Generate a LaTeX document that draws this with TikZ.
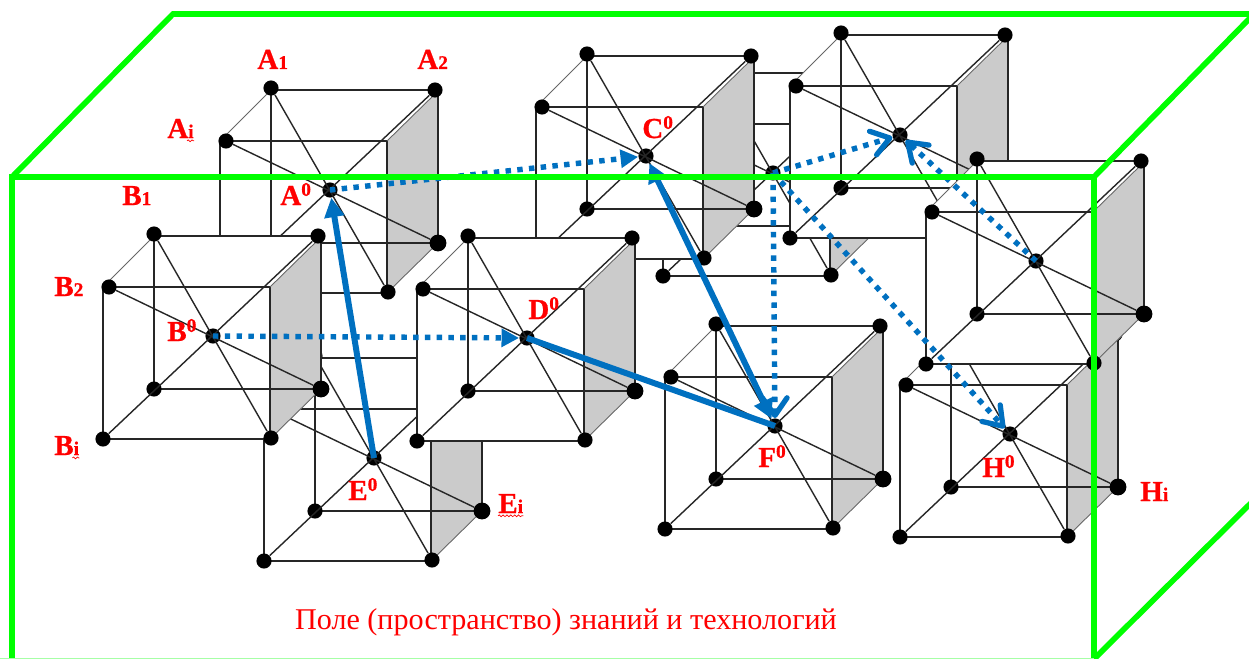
\documentclass[tikz,border=0pt]{standalone}
\usepackage{fontspec}
\setmainfont{Liberation Serif}
\newfontfamily\lblfont{Liberation Serif Bold}[FakeBold=0.8]
\usetikzlibrary{positioning,arrows.meta,calc,decorations.pathmorphing}
\definecolor{sidegray}{RGB}{203,203,203}
\definecolor{arrowblue}{RGB}{0,112,192}
\definecolor{boxgreen}{RGB}{0,255,0}
\definecolor{lblred}{RGB}{255,0,0}
\tikzset{
  dot/.style={circle,fill=black,inner sep=0pt,minimum size=8.6pt},
  bigdot/.style={dot,minimum size=9.6pt},
  cubeline/.style={line width=0.8pt,draw=black!85},
  thinline/.style={line width=0.5pt,draw=black!60},
  lbl/.style={anchor=base west,inner sep=0pt,text=lblred,font=\lblfont\fontsize{16.5}{18}\selectfont},
  squiggle/.style={lblred,line width=0.4pt,decorate,decoration={snake,amplitude=0.5pt,segment length=2.2pt}},
  bluesolid/.style={arrowblue,line width=3.4pt},
  bluedots/.style={arrowblue,line width=3.1pt,dash pattern=on 3.1pt off 3.6pt},
  opentip/.style={-{Straight Barb[length=10pt,width=14pt,line width=3pt,round]}},
  filltip/.style={-{Triangle[length=10pt,width=10pt]}},
  greenbox/.style={boxgreen,line width=3.2pt}
}
\newcommand{\smallone}[1]{{\fontsize{11}{12}\selectfont #1}}
\newcommand{\lblsup}[1]{#1\raisebox{5.2pt}{\smallone{0}}}
\newcommand{\cubebox}[3]{
  \begin{scope}[shift={(#2,#3)}]
    \fill[white] (0,0) -- (51,-51) -- (218,-51) -- (218,102) -- (167,152) -- (0,152) -- cycle;
    \fill[sidegray] (167,0) -- (217,-49) -- (218,102) -- (167,152) -- cycle;
    \draw[cubeline] (51,-51) rectangle (218,102);
    \draw[cubeline] (0,0) rectangle (167,152);
    \draw[thinline] (0,0) -- (51,-51) (167,0) -- (215,-47) (167,152) -- (218,102);
    \node[dot] (#1btl) at (51,-53) {};
    \node[dot] (#1btr) at (215,-51) {};
    \node[dot] (#1ftl) at (6,0) {};
    \node[dot] (#1bbl) at (51,102) {};
    \node[bigdot] (#1bbr) at (218,102) {};
    \node[dot] (#1fbl) at (0,152) {};
    \node[dot] (#1fbr) at (168,151) {};
    \node[dot] (#10) at (110,49) {};
    \draw[cubeline] (#1fbl) -- (#1btr) (#1btl) -- (#1fbr) (#1ftl) -- (#1bbr);
  \end{scope}
}
\begin{document}
\begin{tikzpicture}[x=0.02cm,y=-0.02cm]
\useasboundingbox (0,0) rectangle (1249,659);
\foreach \nm/\cx/\cy in {I/663/124,A/220/141,C/536/107,J/790/86,E/264/409,H/900/385,G/926/212,B/103/287,D/417/289,F/665/377}
  \cubebox{\nm}{\cx}{\cy};
\draw[bluedots,filltip] (A0.center) -- (C0);
\draw[bluedots,filltip] (B0.center) -- (D0);
\draw[bluedots,opentip] (I0.center) -- (J0);
\draw[bluedots,opentip] (I0.center) -- (F0);
\draw[bluedots,opentip] (I0.center) -- (H0);
\draw[bluedots,opentip] (G0.center) -- (J0);
\draw[bluesolid,{Triangle[length=11pt,width=11pt]}-{Triangle[length=11pt,width=11pt]}] (C0) -- (F0);
\draw[bluesolid,-{Triangle[length=11pt,width=11pt]}] (E0.center) -- (A0);
\draw[bluesolid] (D0.center) -- (F0.center);
\coordinate (ftl) at (12,177);
\coordinate (ftr) at (1094,177);
\coordinate (btl) at (173,14);
\coordinate (btr) at (1249,14);
\coordinate (fbl) at (12,659);
\coordinate (fbr) at (1094,659);
\coordinate (rtr) at (1254,14);
\coordinate (rbr) at (1254,500);
\draw[greenbox] (fbl) -- (ftl) -- (ftr) -- (fbr) -- (rbr);
\draw[greenbox] (ftl) -- (btl) -- (btr);
\draw[greenbox] (ftr) -- (rtr);
\draw[boxgreen!35,line width=0.8pt] (0,658.5) -- (1094,658.5);
\node[lbl] (A1) at (257,69) {A\smallone{1}};
\node[lbl] (A2) at (417,69) {A\smallone{2}};
\node[lbl] (Ai) at (167,138) {A\smallone{i}};
\node[lbl] (B1) at (122,205) {B\smallone{1}};
\node[lbl] (B2) at (54,296) {B\smallone{2}};
\node[lbl] (Bi) at (54,455) {B\smallone{i}};
\node[lbl] (Ei) at (498,513) {E\smallone{i}};
\node[lbl] (Hi) at (1140,501) {H\smallone{i}};
\node[lbl] (A00) at (280,205) {\lblsup{A}};
\node[lbl] (B00) at (167,341) {\lblsup{B}};
\node[lbl] (C00) at (642,138) {\lblsup{C}};
\node[lbl] (D00) at (528,319) {\lblsup{D}};
\node[lbl] (E00) at (348,500) {\lblsup{E}};
\node[lbl] (F00) at (758,467) {\lblsup{F}};
\node[lbl] (H00) at (982,477) {\lblsup{H}};
\draw[squiggle] ([yshift=-1.4pt,xshift=-4pt]Ai.south east) -- ([yshift=-1.4pt]Ai.south east);
\draw[squiggle] ([yshift=-1.4pt,xshift=-4pt]Bi.south east) -- ([yshift=-1.4pt]Bi.south east);
\draw[squiggle] ([yshift=-1.4pt]Ei.south west) -- ([yshift=-1.4pt]Ei.south east);
\node[anchor=base,inner sep=0pt,text=lblred,font=\fontsize{17.15}{19}\selectfont] (fieldname) at (566,629) {Поле (пространство) знаний и технологий};
\end{tikzpicture}
\end{document}
